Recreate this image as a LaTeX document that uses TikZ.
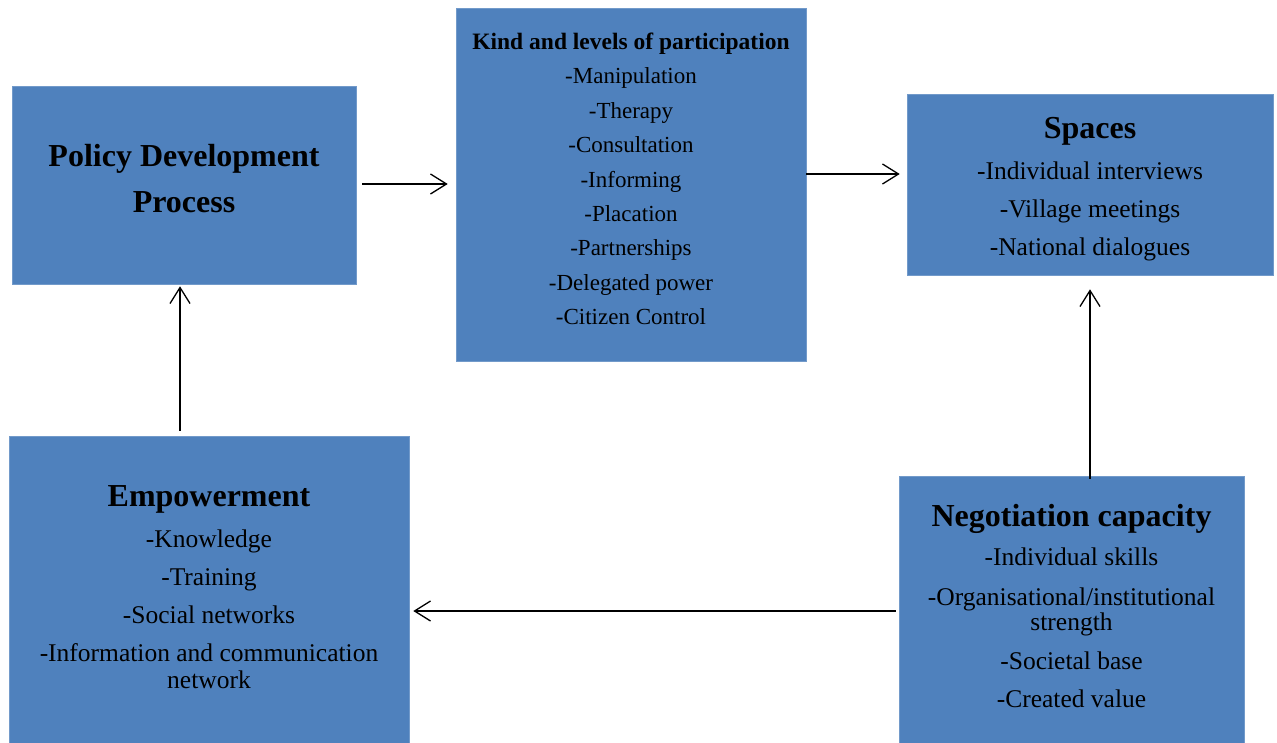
\documentclass[tikz,border=0pt]{standalone}
\usepackage{fontspec}
\setmainfont{Liberation Serif}
\usetikzlibrary{arrows.meta}
\definecolor{boxblue}{HTML}{4F81BD}
\begin{document}
\begin{tikzpicture}[x=1pt,y=-1pt,
  box/.style={fill=boxblue, draw=boxblue!80!white, line width=0.6pt, inner sep=0pt},
  txt/.style={inner sep=0pt, align=center, text=black, font=\fontsize{25.5}{27}\selectfont},
  arr/.style={-{Straight Barb[length=16pt,width=20pt]}, line width=1.3pt}]
\useasboundingbox (0,0) rectangle (1277,743);
% boxes
\node[box, minimum width=344pt, minimum height=198pt] (pol) at (184,185) {};
\node[box, minimum width=350pt, minimum height=353pt] (kind) at (631,184.5) {};
\node[box, minimum width=366pt, minimum height=181pt] (spa) at (1090,184.5) {};
\node[box, minimum width=400pt, minimum height=307pt] (emp) at (209,589.5) {};
\node[box, minimum width=345pt, minimum height=267pt] (neg) at (1071.5,609.5) {};
% texts
\node[txt, font=\bfseries\fontsize{32}{46}\selectfont] (polt) at (184,178.5)
  {Policy Development\\ Process};
\node[txt, font=\fontsize{23}{34.4}\selectfont] (kindt) at (631,179)
  {\textbf{\fontsize{23.5}{34.4}\selectfont Kind and levels of participation}\\ -Manipulation\\ -Therapy\\ -Consultation\\ -Informing\\ -Placation\\ -Partnerships\\ -Delegated power\\ -Citizen Control};
\node[txt, font=\fontsize{25.5}{38}\selectfont] (spat) at (1090,189.5)
  {\textbf{\fontsize{32}{38}\selectfont Spaces}\\[3pt] -Individual interviews\\ -Village meetings\\ -National dialogues};
\node[txt] (empt) at (209,587.5)
  {\textbf{\fontsize{32}{38}\selectfont Empowerment}\\[14pt] -Knowledge\\[11pt] -Training\\[11pt] -Social networks\\[11pt] -Information and communication\\ network};
\node[txt, font=\fontsize{25.5}{25}\selectfont] (negt) at (1071.5,606)
  {\textbf{\fontsize{32}{38}\selectfont Negotiation capacity}\\[14pt] -Individual skills\\[15pt] -Organisational/institutional\\ strength\\[14pt] -Societal base\\[13pt] -Created value};
% connectors
\draw[arr, shorten <=6pt, shorten >=8pt] ([yshift=1pt]pol.east) -- ([yshift=1pt]kind.west |- pol.east);
\draw[arr, shorten >=7pt] ([yshift=10.5pt]kind.east) -- ([yshift=10.5pt]spa.west);
\draw[arr, shorten <=5pt, shorten >=2pt] ([xshift=-29pt]emp.north) -- ([xshift=-4pt]pol.south);
\draw[arr, shorten <=-3pt, shorten >=14pt] ([xshift=18.5pt]neg.north) -- (spa.south);
\draw[arr, shorten <=3pt, shorten >=4pt] ([yshift=-1.5pt]neg.west) -- ([yshift=-1.5pt]emp.east |- neg.west);
\end{tikzpicture}
\end{document}
